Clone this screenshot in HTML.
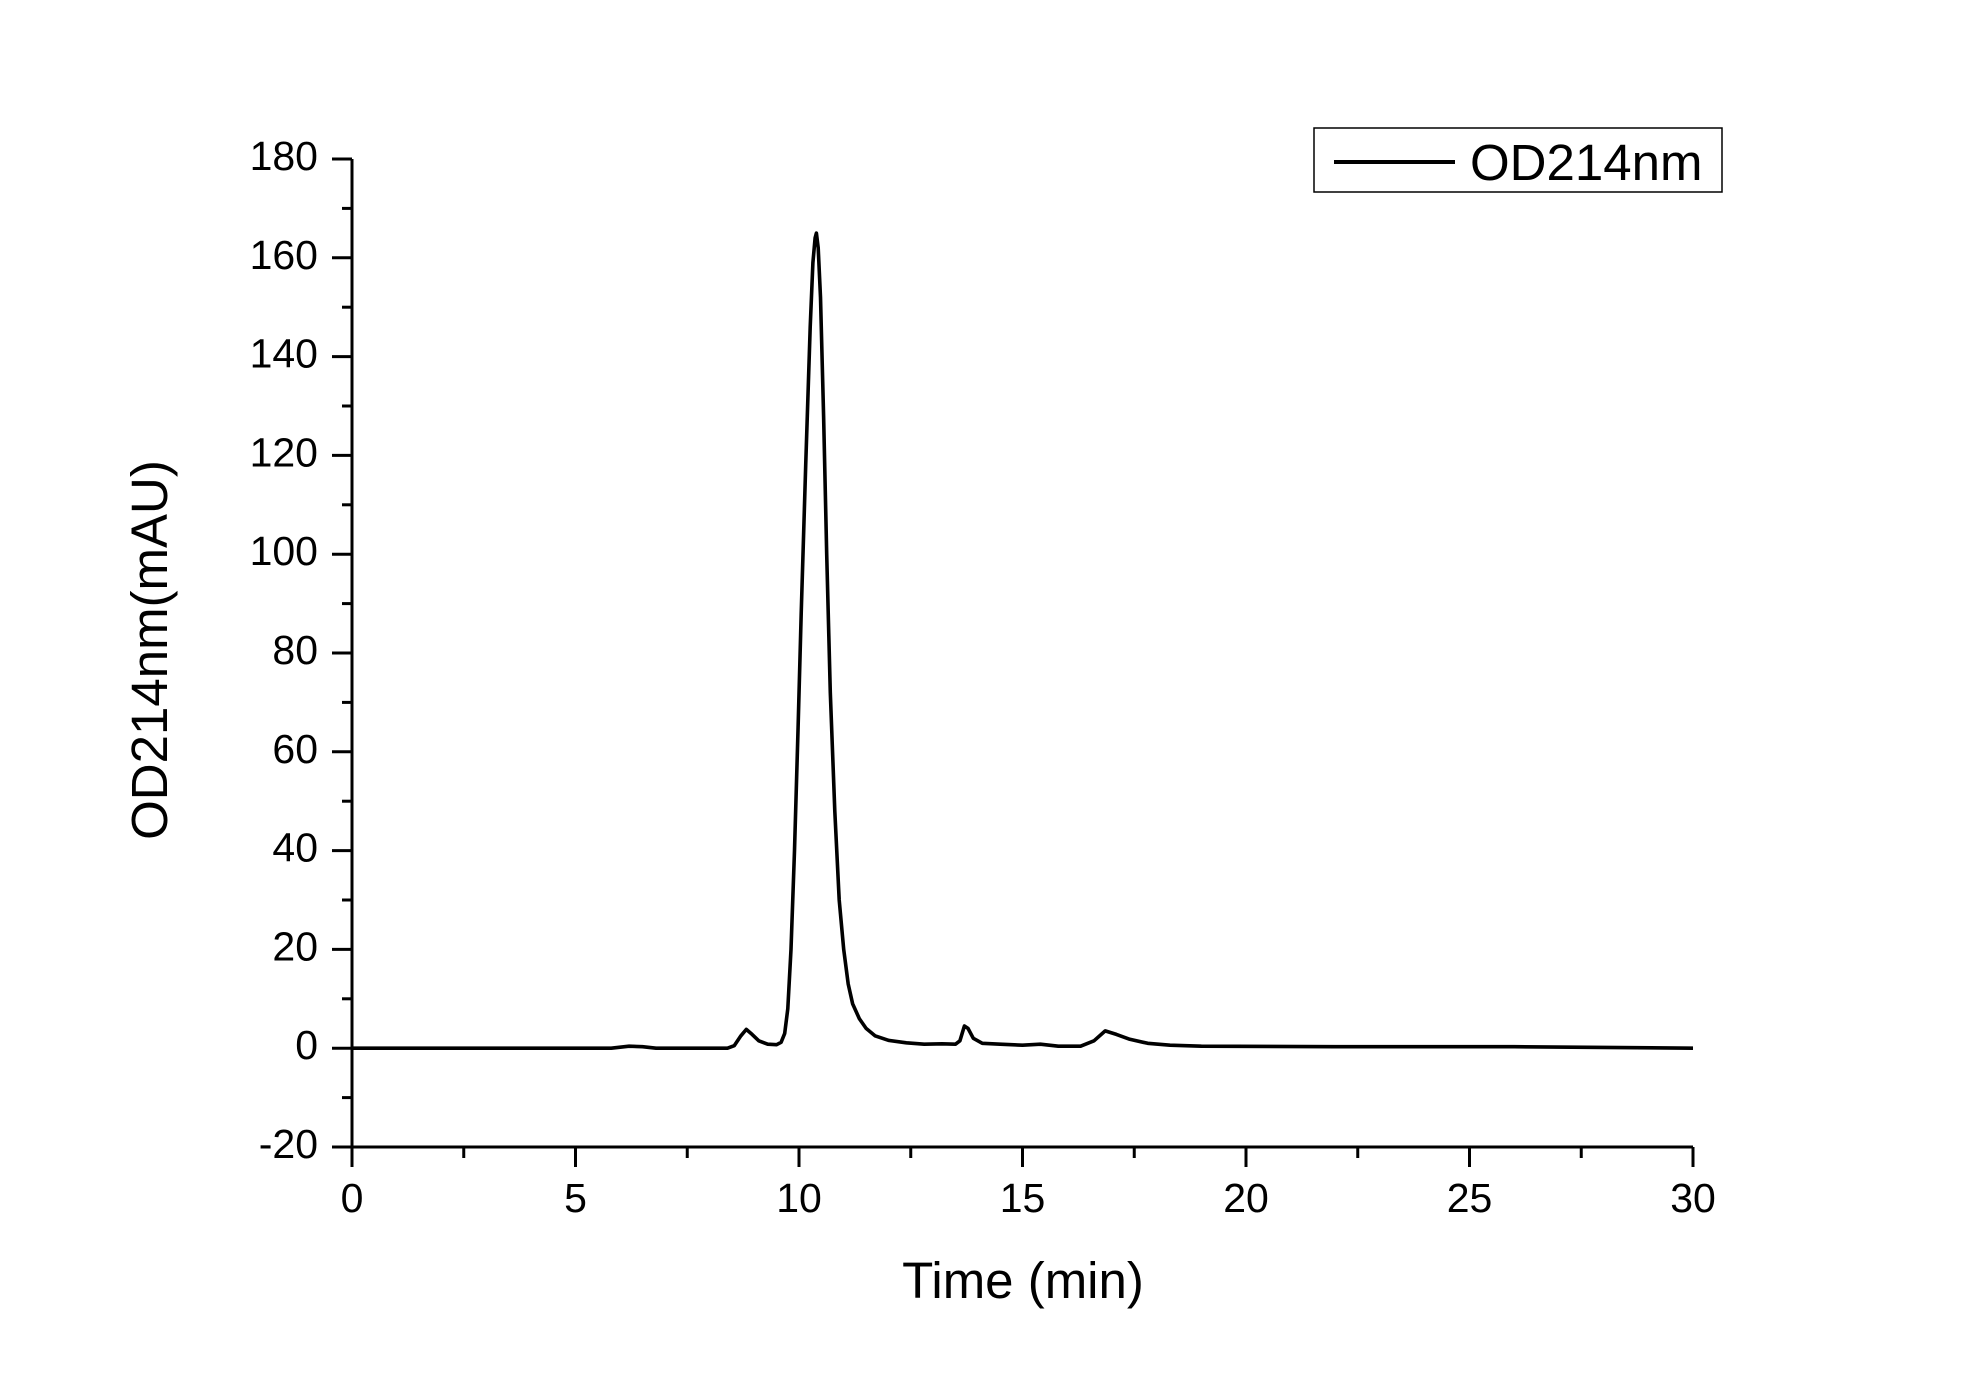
<!DOCTYPE html>
<html><head><meta charset="utf-8"><style>
html,body{margin:0;padding:0;background:#fff;}
svg{display:block;font-family:"Liberation Sans",Arial,sans-serif;}
</style></head><body>
<svg id="chart" width="1968" height="1375" viewBox="0 0 1968 1375">
<g id="axes"></g>
<path id="series" fill="none" stroke="#000" stroke-width="3.6" stroke-linejoin="round"/>
<text x="1023" y="1298" font-size="51" text-anchor="middle">Time (min)</text>
<text transform="translate(167,650) rotate(-90)" font-size="51" text-anchor="middle">OD214nm(mAU)</text>
<g>
<rect x="1314" y="128" width="408" height="64" fill="#fff" stroke="#000" stroke-width="1.5"/>
<line x1="1334" y1="162" x2="1455" y2="162" stroke="#000" stroke-width="4"/>
<text x="1470" y="180" font-size="51">OD214nm</text>
</g>
</svg>
<script>
const times = [0,5.8,6.2,6.5,6.8,8.4,8.55,8.7,8.82,8.95,9.1,9.3,9.5,9.6,9.68,9.75,9.82,9.9,9.98,10.05,10.15,10.25,10.31,10.36,10.39,10.43,10.48,10.55,10.62,10.7,10.8,10.9,11.0,11.1,11.2,11.35,11.5,11.7,12.0,12.4,12.8,13.2,13.5,13.6,13.7,13.78,13.9,14.1,14.5,15.0,15.4,15.8,16.3,16.6,16.85,17.1,17.4,17.8,18.3,19,22,26,30];
const values = [0,0,0.4,0.3,0,0,0.5,2.5,3.8,2.8,1.5,0.8,0.7,1.2,3,8,20,40,65,88,118,146,159,164,165,162,152,128,100,72,48,30,20,13,9,6,4,2.5,1.6,1.1,0.8,0.9,0.8,1.5,4.5,4.0,2,1,0.8,0.6,0.8,0.4,0.4,1.5,3.5,2.8,1.8,1.0,0.6,0.4,0.3,0.3,0];
const xTicks = [0,5,10,15,20,25,30];
const xTickLabels = ["0","5","10","15","20","25","30"];
const yTicks = [-20,0,20,40,60,80,100,120,140,160,180];
const yTickLabels = ["-20","0","20","40","60","80","100","120","140","160","180"];

const X0=352, X1=1693, Y0=1147, Y1=159, xmin=0, xmax=30, ymin=-20, ymax=180;
const sx = t => X0 + (t-xmin)/(xmax-xmin)*(X1-X0);
const sy = v => Y0 - (v-ymin)/(ymax-ymin)*(Y0-Y1);
const NS="http://www.w3.org/2000/svg";
const axes=document.getElementById('axes');
function mk(tag,attrs){const e=document.createElementNS(NS,tag);for(const k in attrs)e.setAttribute(k,attrs[k]);axes.appendChild(e);return e;}
let el;
el=mk('line',{x1:X0,y1:Y0,x2:X1,y2:Y0,stroke:'#000','stroke-width':3});


el=mk('line',{x1:X0,y1:Y0,x2:X0,y2:Y1,stroke:'#000','stroke-width':3});


xTicks.forEach((t,i)=>{
  const x=sx(t);
  let e=mk('line',{x1:x,y1:Y0,x2:x,y2:Y0+20,stroke:'#000','stroke-width':3});
  
  
  if(i<xTicks.length-1){
    const xm=sx(t+2.5);
    e=mk('line',{x1:xm,y1:Y0,x2:xm,y2:Y0+11,stroke:'#000','stroke-width':3});
    
    
  }
  const tx=mk('text',{x:x,y:1212,'font-size':41,'text-anchor':'middle'});
  tx.textContent=xTickLabels[i];
  
  
});
yTicks.forEach((v,i)=>{
  const y=sy(v);
  let e=mk('line',{x1:X0-20,y1:y,x2:X0,y2:y,stroke:'#000','stroke-width':3});
  
  
  if(i<yTicks.length-1){
    const ym=sy(v+10);
    e=mk('line',{x1:X0-10,y1:ym,x2:X0,y2:ym,stroke:'#000','stroke-width':3});
    
    
  }
  const tx=mk('text',{x:318,y:y+11,'font-size':41,'text-anchor':'end'});
  tx.textContent=yTickLabels[i];
  
  
});
let d='';
times.forEach((t,i)=>{d+=(i?'L':'M')+sx(t).toFixed(1)+','+sy(values[i]).toFixed(1);});
document.getElementById('series').setAttribute('d',d);
</script>
</body></html>
